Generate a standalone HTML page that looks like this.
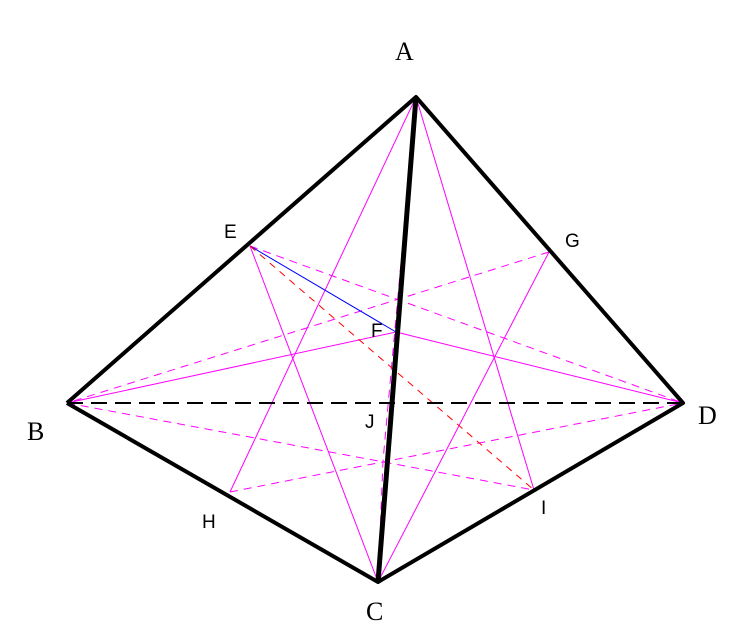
<!DOCTYPE html>
<html><head><meta charset="utf-8"><style>
body{margin:0;background:#fff}
svg{display:block}
.s{font-family:"Liberation Serif",serif;font-size:26px}
.t{font-family:"Liberation Sans",sans-serif;font-size:19px}
</style></head><body>
<svg width="750" height="644" viewBox="0 0 750 644">
<g stroke="#f0f" stroke-width="1" fill="none">
<line x1="416" y1="97" x2="230" y2="492"/>
<line x1="416" y1="97" x2="534" y2="490"/>
<line x1="378" y1="582" x2="250" y2="246"/>
<line x1="378" y1="582" x2="549" y2="252"/>
<line x1="67" y1="403" x2="396" y2="332"/>
<line x1="683" y1="403" x2="396" y2="332"/>
</g>
<g stroke="#f0f" stroke-width="1" fill="none" stroke-dasharray="8,6">
<line x1="250" y1="246" x2="683" y2="403"/>
<line x1="549" y1="252" x2="67" y2="403"/>
<line x1="230" y1="492" x2="683" y2="403"/>
<line x1="67" y1="403" x2="534" y2="490"/>
<polyline points="416,97 383,461 378,582"/>
</g>
<line x1="250" y1="246" x2="396" y2="332" stroke="#00f" stroke-width="1"/>
<line x1="250" y1="246" x2="534" y2="490" stroke="#f00" stroke-width="1" stroke-dasharray="7,6"/>
<line x1="67" y1="403" x2="683" y2="403" stroke="#000" stroke-width="2" stroke-dasharray="16,8"/>
<g stroke="#000" stroke-width="4" fill="none" stroke-linejoin="round">
<polyline points="67,403 416,97 683,403 378,582 67,403"/>
<line x1="416" y1="97" x2="378" y2="582" stroke-width="5"/>
</g>
<text class="s" x="395" y="60">A</text>
<text class="s" x="27" y="440">B</text>
<text class="s" x="366" y="620">C</text>
<text class="s" x="698" y="424">D</text>
<text class="t" x="224" y="238">E</text>
<text class="t" x="371" y="337">F</text>
<text class="t" x="565" y="247">G</text>
<text class="t" x="202" y="528">H</text>
<text class="t" x="541" y="514">I</text>
<text class="t" x="365" y="428">J</text>
</svg>
</body></html>
